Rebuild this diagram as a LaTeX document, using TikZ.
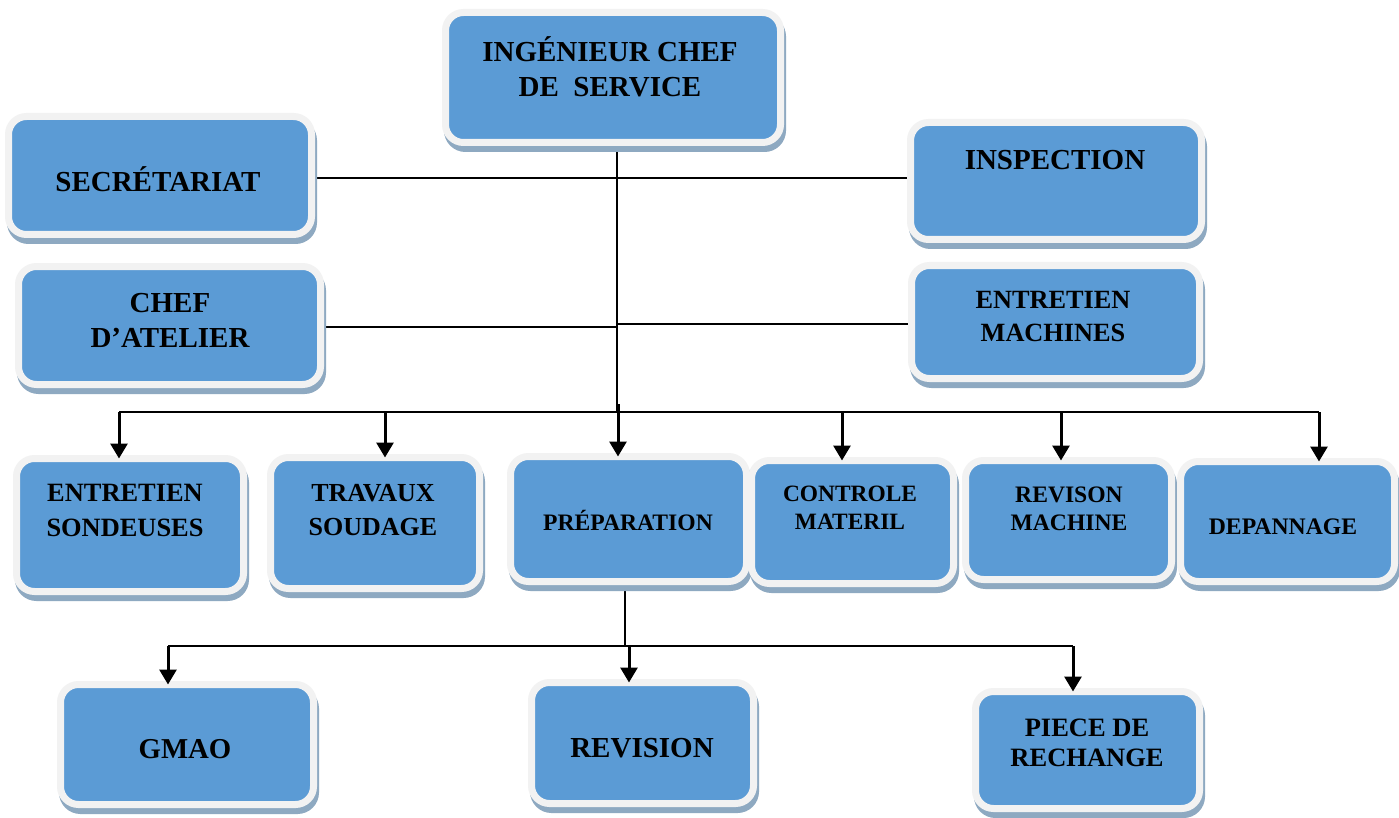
\documentclass[tikz,border=0pt]{standalone}
\usepackage{fontspec}
\setmainfont{Liberation Serif}
\usetikzlibrary{arrows.meta,calc,shadows,backgrounds}
\definecolor{boxblue}{HTML}{5B9BD5}
\definecolor{framegray}{HTML}{F2F2F2}
\definecolor{shadowc}{HTML}{8EA9C1}

\tikzset{
  unitbox/.style={rectangle, rounded corners=18pt, fill=boxblue, draw=framegray,
    line width=7pt, inner sep=0pt,
    drop shadow={shadow xshift=2pt, shadow yshift=-6pt, fill=shadowc,
      draw=shadowc, line width=7pt, opacity=1}},
  lbl/.style={align=center, inner sep=0pt, text=black},
  wire/.style={draw=black, line width=1.4pt},
  arr/.style={draw=black, line width=3pt,
    -{Triangle[length=15pt 0, width=17pt 0]}},
}

% bold label font: size and baseline skip
\newcommand\tsz[2]{\fontsize{#1}{#2}\selectfont\bfseries}

% framed box given by its outer corners (x1,y1) and (x2,y2)
\newcommand\placebox[5]{%
  \pgfmathsetmacro\bw{#4-#2-7}%
  \pgfmathsetmacro\bh{#5-#3-7}%
  \pgfmathsetmacro\bx{(#2+#4)/2}%
  \pgfmathsetmacro\by{(#3+#5)/2}%
  \node[unitbox, minimum width=\bw pt, minimum height=\bh pt] (#1) at (\bx,\by) {};%
}

\begin{document}
\begin{tikzpicture}[x=1pt,y=-1pt]
\useasboundingbox (0,0) rectangle (1399,818);

% boxes
\placebox{chef}{442}{9}{784}{146}
\placebox{sec}{5}{113}{315}{238}
\placebox{insp}{907}{119}{1205}{243}
\placebox{catel}{15}{263}{324}{388}
\placebox{entm}{908}{262}{1203}{382}
\placebox{esd}{13}{455}{247}{595}
\placebox{trav}{267}{454}{483}{592}
\placebox{prep}{507}{453}{750}{585}
\placebox{ctrl}{748}{457}{957}{587}
\placebox{revm}{962}{457}{1175}{583}
\placebox{dep}{1177}{458}{1398}{585}
\placebox{gmao}{57}{681}{317}{808}
\placebox{rev}{528}{679}{757}{807}
\placebox{piece}{972}{688}{1203}{812}

% labels
\node[lbl, font=\tsz{29}{35}] (l-chef) at (610,69.5) {ING\smash{É}NIEUR CHEF\\DE\ \ SERVICE};
\node[lbl, font=\tsz{29}{35}] (l-sec) at (158,182) {SECR\smash{É}TARIAT};
\node[lbl, font=\tsz{29}{35}] (l-insp) at (1055,160) {INSPECTION};
\node[lbl, font=\tsz{29}{35}] (l-catel) at (170,320.5) {CHEF\\D’ATELIER};
\node[lbl, font=\tsz{26.3}{33}] (l-entm) at (1053,316.5) {ENTRETIEN\\MACHINES};
\node[lbl, font=\tsz{26.4}{35}] (l-esd) at (125,510.5) {ENTRETIEN\\SONDEUSES};
\node[lbl, font=\tsz{26}{34}] (l-trav) at (373,510) {TRAVAUX\\SOUDAGE};
\node[lbl, font=\tsz{23.6}{28}] (l-prep) at (628,523) {PR\smash{É}PARATION};
\node[lbl, font=\tsz{23.4}{28}] (l-ctrl) at (850,508) {CONTROLE\\MATERIL};
\node[lbl, font=\tsz{23.6}{28}] (l-revm) at (1069,509) {REVISON\\MACHINE};
\node[lbl, font=\tsz{23.7}{28}] (l-dep) at (1283,527) {DEPANNAGE};
\node[lbl, font=\tsz{28.8}{35}] (l-gmao) at (185,749) {GMAO};
\node[lbl, font=\tsz{29}{35}] (l-rev) at (642,748) {REVISION};
\node[lbl, font=\tsz{26.5}{30}] (l-piece) at (1087,743) {PIECE DE\\RECHANGE};

% junction points
\coordinate (jS) at (617,178);
\coordinate (jC) at (617,327);
\coordinate (jE) at (617,324);
\coordinate (jP) at (618,412);
\coordinate (b1) at (119,412);
\coordinate (b2) at (385,412);
\coordinate (b4) at (842,412);
\coordinate (b5) at (1061,412);
\coordinate (b6) at (1319,412);
\coordinate (jL) at (625,646);
\coordinate (g1) at (168,646);
\coordinate (g2) at (629,646);
\coordinate (g3) at (1073,646);

% plain connectors, kept behind the boxes
\begin{pgfonlayer}{background}
  \fill[white] (0,0) rectangle (1399,818);
  \draw[wire] (sec |- jS) -- (insp |- jS);
  \draw[wire] (jS |- chef) -- (jS |- jP);
  \draw[wire] (catel |- jC) -- (jC);
  \draw[wire] (jE) -- (entm |- jE);
  \draw[wire] (b1) -- (b6);
  \draw[wire, line width=1.8pt] (jL |- prep) -- (jL);
  \draw[wire, line width=1.8pt] (g1) -- (g3);
\end{pgfonlayer}

% arrows to the units
\draw[arr] (b1) -- ($(b1 |- esd.north)+(0,3.5)$);
\draw[arr] (b2) -- ($(b2 |- trav.north)+(0,3.5)$);
\draw[arr] ($(jP)+(0,-8)$) -- ($(jP |- prep.north)+(0,3.5)$);
\draw[arr] (b4) -- ($(b4 |- ctrl.north)+(0,3.5)$);
\draw[arr] (b5) -- ($(b5 |- revm.north)+(0,3.5)$);
\draw[arr] (b6) -- ($(b6 |- dep.north)+(0,3.5)$);
\draw[arr] (g1) -- ($(g1 |- gmao.north)+(0,3.5)$);
\draw[arr] (g2) -- ($(g2 |- rev.north)+(0,3.5)$);
\draw[arr] (g3) -- ($(g3 |- piece.north)+(0,3.5)$);
\end{tikzpicture}
\end{document}
